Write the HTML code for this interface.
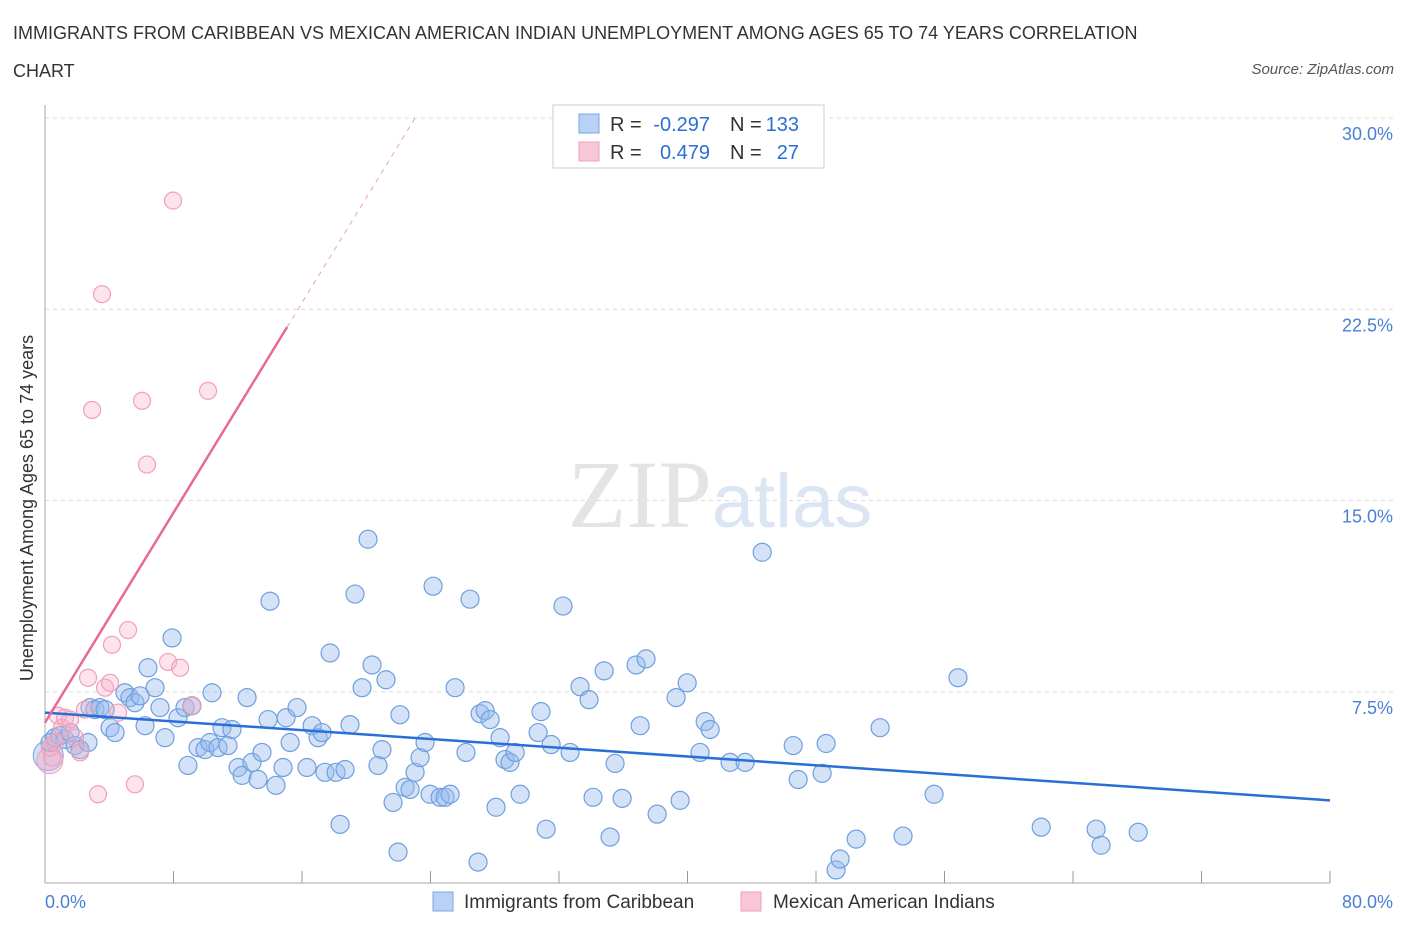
<!DOCTYPE html>
<html><head><meta charset="utf-8"><style>
body{margin:0;width:1406px;height:930px;background:#fff;font-family:"Liberation Sans",sans-serif;overflow:hidden}
#t{position:absolute;left:13px;top:14px;font-size:18px;color:#333;line-height:38px;width:1185px}
#src{position:absolute;right:12px;top:61px;font-size:15px;font-style:italic;color:#555}
</style></head><body>
<div id="t">IMMIGRANTS FROM CARIBBEAN VS MEXICAN AMERICAN INDIAN UNEMPLOYMENT AMONG AGES 65 TO 74 YEARS CORRELATION<br>CHART</div>
<div id="src">Source: ZipAtlas.com</div>
<svg id="c" width="1406" height="930" style="position:absolute;left:0;top:0"></svg>
<script>
const blueX=[0.31,0.62,0.93,1.25,1.56,1.87,2.18,2.68,2.80,3.11,3.42,3.74,4.05,4.36,4.98,5.29,5.60,5.92,6.23,6.41,6.85,7.16,7.47,7.91,8.28,8.72,8.90,9.15,9.53,9.96,10.27,10.40,10.77,11.02,11.39,11.64,12.02,12.27,12.58,12.89,13.26,13.51,13.89,14.01,14.38,14.82,15.01,15.26,15.69,16.31,16.63,17.00,17.25,17.43,17.75,18.12,18.37,18.68,18.99,19.30,19.74,20.11,20.36,20.73,20.98,21.23,21.67,21.98,22.10,22.42,22.73,23.04,23.35,23.66,23.97,24.16,24.60,24.91,25.22,25.53,26.21,26.46,26.96,27.09,27.40,27.71,28.08,28.33,28.64,28.95,29.27,29.58,30.70,30.88,31.20,31.51,32.25,32.69,33.31,33.87,34.12,34.81,35.18,35.49,35.93,36.80,37.05,37.42,38.11,39.29,39.54,39.98,40.78,41.10,41.41,42.65,43.59,44.65,46.58,46.89,48.38,48.63,49.25,49.50,50.50,51.99,53.42,55.35,56.84,62.02,65.44,65.75,68.06];
const blueY=[5.51,5.70,5.78,5.63,5.90,5.39,5.23,5.51,6.88,6.80,6.88,6.80,6.09,5.90,7.46,7.27,7.07,7.34,6.17,8.44,7.66,6.88,5.70,9.61,6.48,6.88,4.61,6.95,5.31,5.23,5.51,7.46,5.31,6.09,5.39,6.02,4.53,4.22,7.27,4.73,4.06,5.12,6.41,11.05,3.83,4.53,6.48,5.51,6.88,4.53,6.17,5.70,5.90,4.34,9.02,4.34,2.30,4.45,6.21,11.33,7.66,13.48,8.55,4.61,5.23,7.97,3.16,1.21,6.60,3.75,3.67,4.34,4.92,5.51,3.48,11.64,3.36,3.36,3.48,7.66,5.12,11.13,0.82,6.64,6.76,6.41,2.97,5.70,4.84,4.73,5.12,3.48,5.90,6.72,2.11,5.43,10.86,5.12,7.70,7.19,3.36,8.32,1.80,4.69,3.32,8.55,6.17,8.79,2.70,7.27,3.24,7.85,5.12,6.33,6.02,4.73,4.73,12.97,5.39,4.06,4.30,5.47,0.51,0.94,1.72,6.09,1.84,3.48,8.05,2.19,2.11,1.48,1.99];
const pinkX=[0.31,0.44,0.62,0.81,1.06,1.25,1.56,1.87,2.18,2.49,2.68,2.93,3.30,3.55,3.74,4.05,4.17,4.55,5.17,5.60,6.04,6.35,7.66,7.97,8.41,9.15,10.15];
const pinkY=[5.31,4.92,5.51,6.56,6.09,6.48,6.41,5.70,5.12,6.80,8.05,18.55,3.48,23.09,7.66,7.85,9.34,6.68,9.92,3.87,18.91,16.41,8.67,26.76,8.44,6.95,19.30];
const blueTrend=[6.68,3.24];
const pinkTrend=[6.29,30.0];
const pinkTrendEnd=23.04, pinkSolidEnd=15.07;
const yTicks=[7.5,15,22.5,30];
const yTickLabels=["7.5%","15.0%","22.5%","30.0%"];
const xTicks=[0,8,16,24,32,40,48,56,64,72,80];

const X=v=>45+v/80*1285, Y=v=>883-v/30*765;
const svg=document.getElementById('c'),NS='http://www.w3.org/2000/svg';
function mk(t,a,p){const e=document.createElementNS(NS,t);for(const k in a)e.setAttribute(k,a[k]);(p||svg).appendChild(e);return e;}
yTicks.forEach((v,i)=>{
 const g=mk('line',{x1:45,x2:1395,y1:Y(v),y2:Y(v),stroke:'#ddd','stroke-dasharray':'4,4'});
 
 
 const t=mk('text',{x:1393,y:Y(v)+22,'text-anchor':'end','font-size':18,fill:'#4a7fd6'});t.textContent=yTickLabels[i];
 
 
});
xTicks.forEach(v=>{
 const l=mk('line',{x1:X(v),x2:X(v),y1:883,y2:871,stroke:'#999'});
 
 
});
const ax=mk('line',{x1:45,x2:1330,y1:883,y2:883,stroke:'#aaa'});


const ay=mk('line',{x1:45,x2:45,y1:105,y2:883,stroke:'#aaa'});


const wm=mk('text',{x:720,y:527,'text-anchor':'middle','font-size':96,fill:'#e4e4e4','font-family':'Liberation Serif'});
wm.innerHTML='ZIP<tspan fill="#dbe6f5" font-family="Liberation Sans" font-size="76">atlas</tspan>';


let b=mk('circle',{cx:X(0.2),cy:Y(5.0),r:15,fill:'rgba(150,185,235,0.45)',stroke:'#7aa5e3'});


b=mk('circle',{cx:X(0.3),cy:Y(4.8),r:13,fill:'rgba(245,175,200,0.4)',stroke:'#f0a0b8'});


blueX.forEach((v,i)=>{
 const c=mk('circle',{cx:X(v),cy:Y(blueY[i]),r:9,fill:'rgba(150,185,235,0.42)',stroke:'#6f9fe0','stroke-width':1.2});
 
 
});
pinkX.forEach((v,i)=>{
 const c=mk('circle',{cx:X(v),cy:Y(pinkY[i]),r:8.5,fill:'rgba(245,175,200,0.35)',stroke:'#f0a0b8','stroke-width':1.2});
 
 
});
const pyAt=x=>pinkTrend[0]+(pinkTrend[1]-pinkTrend[0])*x/pinkTrendEnd;
let l=mk('line',{x1:X(0),y1:Y(blueTrend[0]),x2:X(80),y2:Y(blueTrend[1]),stroke:'#2a6fd6','stroke-width':2.5});


l=mk('line',{x1:X(0),y1:Y(pinkTrend[0]),x2:X(pinkSolidEnd),y2:Y(pyAt(pinkSolidEnd)),stroke:'#e8689a','stroke-width':2.5});


l=mk('line',{x1:X(pinkSolidEnd),y1:Y(pyAt(pinkSolidEnd)),x2:X(pinkTrendEnd),y2:Y(pinkTrend[1]),stroke:'#eaa0bb','stroke-width':1,'stroke-dasharray':'5,5'});


</script>
<svg width="1406" height="930" style="position:absolute;left:0;top:0;font-family:'Liberation Sans',sans-serif">
 <g>
  <rect x="553" y="105" width="271" height="63" fill="#fff" stroke="#ccc"/>
  <rect x="579" y="114" width="20" height="19" fill="#b9d1f3" stroke="#7aa5e3"/>
  <rect x="579" y="142" width="20" height="19" fill="#f9c6d6" stroke="#f0a0b8"/>
  <text x="610" y="131" font-size="20" fill="#333">R =</text>
  <text x="710" y="131" font-size="20" fill="#2a6fd6" text-anchor="end">-0.297</text>
  <text x="730" y="131" font-size="20" fill="#333">N =</text>
  <text x="799" y="131" font-size="20" fill="#2a6fd6" text-anchor="end">133</text>
  <text x="610" y="159" font-size="20" fill="#333">R =</text>
  <text x="710" y="159" font-size="20" fill="#2a6fd6" text-anchor="end">0.479</text>
  <text x="730" y="159" font-size="20" fill="#333">N =</text>
  <text x="799" y="159" font-size="20" fill="#2a6fd6" text-anchor="end">27</text>
 </g>
 <text x="20" y="495" font-size="18" fill="#333" text-anchor="middle" transform="rotate(-90 33 495)">Unemployment Among Ages 65 to 74 years</text>
 <text x="45" y="908" font-size="18" fill="#4a7fd6">0.0%</text>
 <text x="1393" y="908" font-size="18" fill="#4a7fd6" text-anchor="end">80.0%</text>
 <g><rect x="433" y="892" width="20" height="19" fill="#b9d1f3" stroke="#7aa5e3"/><text x="464" y="908" font-size="19" fill="#333">Immigrants from Caribbean</text></g>
 <g><rect x="741" y="892" width="20" height="19" fill="#f9c6d6" stroke="#f0a0b8"/><text x="773" y="908" font-size="19" fill="#333">Mexican American Indians</text></g>
</svg>
</body></html>
